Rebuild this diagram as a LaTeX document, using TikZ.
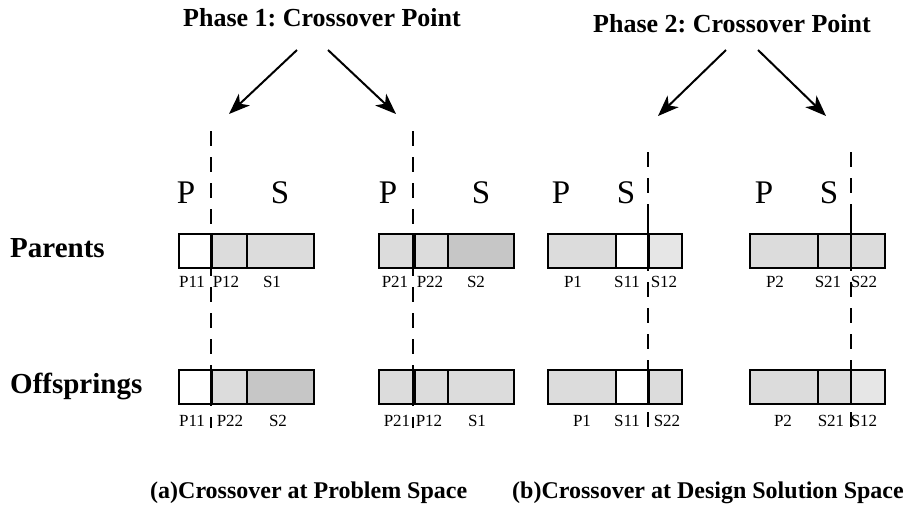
\documentclass[tikz,border=0pt]{standalone}
\usepackage{fontspec}
\setmainfont{Liberation Serif}
\usetikzlibrary{arrows.meta}
\frenchspacing
\definecolor{cellA}{RGB}{220,220,220}
\definecolor{cellB}{RGB}{198,198,198}
\definecolor{cellC}{RGB}{230,230,230}
\tikzset{
  cell/.style={draw=black, line width=1.8pt, anchor=north west, inner sep=0pt,
               minimum height=34pt},
  tag/.style={anchor=base, inner sep=0pt, font=\fontsize{17}{17}\selectfont},
  big/.style={anchor=base, inner sep=0pt, font=\fontsize{33}{33}\selectfont},
  bold/.style={inner sep=0pt, font=\fontsize{26}{26}\selectfont\bfseries},
  rowlabel/.style={inner sep=0pt, font=\fontsize{29}{29}\selectfont\bfseries},
  capt/.style={inner sep=0pt, font=\fontsize{24}{24}\selectfont\bfseries},
  cut/.style={line width=1.8pt, dash pattern=on 15pt off 11pt},
  pointer/.style={line width=2pt, -{Stealth[length=21pt,width=16pt,inset=6pt]}}
}
\begin{document}
\begin{tikzpicture}[x=1pt,y=-1pt]
\useasboundingbox (0,0) rectangle (918,523);

% titles
\node[bold, anchor=base] (t1) at (322,26) {Phase 1: Crossover Point};
\node[bold, anchor=base] (t2) at (732,32) {Phase 2: Crossover Point};

% row labels
\node[rowlabel, anchor=base west] (rp) at (10,257) {Parents};
\node[rowlabel, anchor=base west] (ro) at (10,393) {Offsprings};

% captions
\node[capt, anchor=base west] (ca) at (150,498) {(a)Crossover at Problem Space};
\node[capt, anchor=base east] (cb) at (904,498) {(b)Crossover at Design Solution Space};

% P / S headers
\node[big] (pa) at (186,203) {P};
\node[big] (sa) at (280,203) {S};
\node[big] (pb) at (388,203) {P};
\node[big] (sb) at (481,203) {S};
\node[big] (pc) at (561,203) {P};
\node[big] (sc) at (626,203) {S};
\node[big] (pd) at (764,203) {P};
\node[big] (sd) at (829,203) {S};

% crossover cut lines
\coordinate (c1a) at (211,131); \coordinate (c1b) at (211,428);
\coordinate (c2a) at (413,131); \coordinate (c2b) at (413,428);
\coordinate (c3a) at (648,152); \coordinate (c3b) at (648,436);
\coordinate (c4a) at (851,152); \coordinate (c4b) at (851,436);
\draw[cut] (c1a) -- (c1b);
\draw[cut] (c2a) -- (c2b);
\draw[cut] (c3a) -- (c3b);
\draw[cut] (c4a) -- (c4b);

% arrows from the phase titles to the cut points
\coordinate (a1s) at (297,50); \coordinate (a1e) at (229,114);
\coordinate (a2s) at (328,50); \coordinate (a2e) at (396,114);
\coordinate (a3s) at (726,50); \coordinate (a3e) at (658,116);
\coordinate (a4s) at (758,50); \coordinate (a4e) at (826,116);
\draw[pointer] (a1s) -- (a1e);
\draw[pointer] (a2s) -- (a2e);
\draw[pointer] (a3s) -- (a3e);
\draw[pointer] (a4s) -- (a4e);

% ---- parents ----
\node[cell, fill=white, minimum width=33pt] (pA1) at (178,233) {};
\node[cell, fill=cellA, minimum width=35pt] (pA2) at (211,233) {};
\node[cell, fill=cellA, minimum width=67pt] (pA3) at (246,233) {};

\node[cell, fill=cellA, minimum width=36pt] (pB1) at (378,233) {};
\node[cell, fill=cellA, minimum width=33pt] (pB2) at (414,233) {};
\node[cell, fill=cellB, minimum width=66pt] (pB3) at (447,233) {};

\node[cell, fill=cellA, minimum width=68pt] (pC1) at (547,233) {};
\node[cell, fill=white, minimum width=33pt] (pC2) at (615,233) {};
\node[cell, fill=cellC, minimum width=33pt] (pC3) at (648,233) {};

\node[cell, fill=cellA, minimum width=68pt] (pD1) at (749,233) {};
\node[cell, fill=cellA, minimum width=33pt] (pD2) at (817,233) {};
\node[cell, fill=cellA, minimum width=34pt] (pD3) at (850,233) {};

\node[tag] at (192,287) {P11};
\node[tag] at (226,287) {P12};
\node[tag] at (272,287) {S1};
\node[tag] at (395,287) {P21};
\node[tag] at (430,287) {P22};
\node[tag] at (476,287) {S2};
\node[tag] at (573,287) {P1};
\node[tag] at (627,287) {S11};
\node[tag] at (664,287) {S12};
\node[tag] at (775,287) {P2};
\node[tag] at (828,287) {S21};
\node[tag] at (864,287) {S22};

% ---- offsprings ----
\node[cell, fill=white, minimum width=33pt] (oA1) at (178,369) {};
\node[cell, fill=cellA, minimum width=35pt] (oA2) at (211,369) {};
\node[cell, fill=cellB, minimum width=67pt] (oA3) at (246,369) {};

\node[cell, fill=cellA, minimum width=36pt] (oB1) at (378,369) {};
\node[cell, fill=cellA, minimum width=33pt] (oB2) at (414,369) {};
\node[cell, fill=cellA, minimum width=66pt] (oB3) at (447,369) {};

\node[cell, fill=cellA, minimum width=68pt] (oC1) at (547,369) {};
\node[cell, fill=white, minimum width=33pt] (oC2) at (615,369) {};
\node[cell, fill=cellA, minimum width=33pt] (oC3) at (648,369) {};

\node[cell, fill=cellA, minimum width=68pt] (oD1) at (749,369) {};
\node[cell, fill=cellA, minimum width=33pt] (oD2) at (817,369) {};
\node[cell, fill=cellC, minimum width=34pt] (oD3) at (850,369) {};

\node[tag] at (192,426) {P11};
\node[tag] at (230,426) {P22};
\node[tag] at (278,426) {S2};
\node[tag] at (397,426) {P21};
\node[tag] at (429,426) {P12};
\node[tag] at (477,426) {S1};
\node[tag] at (582,426) {P1};
\node[tag] at (627,426) {S11};
\node[tag] at (667,426) {S22};
\node[tag] at (783,426) {P2};
\node[tag] at (831,426) {S21};
\node[tag] at (864,426) {S12};

% cut lines drawn again over the cells where they split them
\draw[line width=1.8pt] (211,233) -- (211,267);
\draw[line width=1.8pt] (211,369) -- (211,403);
\draw[line width=1.8pt] (413,233) -- (413,267);
\draw[line width=1.8pt] (413,369) -- (413,403);
\draw[line width=1.8pt] (648,218) -- (648,267);
\draw[line width=1.8pt] (648,369) -- (648,403);
\draw[line width=1.8pt] (851,218) -- (851,267);
\draw[line width=1.8pt] (851,369) -- (851,403);
\end{tikzpicture}
\end{document}
